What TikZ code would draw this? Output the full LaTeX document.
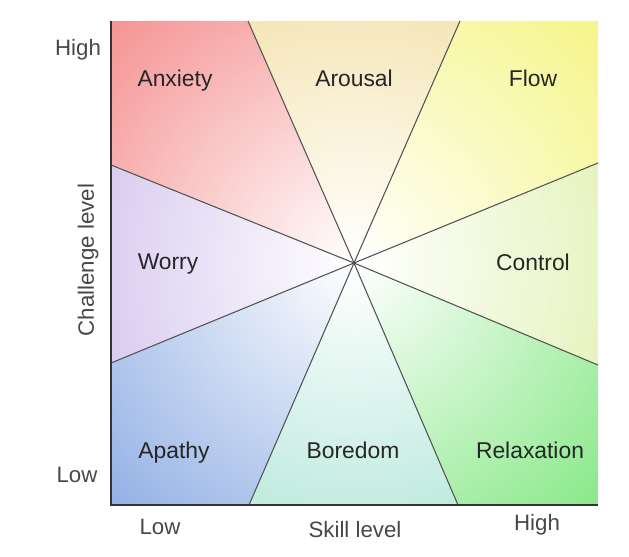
\documentclass[tikz,border=0pt]{standalone}
\usepackage{fontspec}
\setmainfont{Liberation Sans}
\usetikzlibrary{positioning}
\definecolor{anxietycol}{RGB}{245,145,145}
\definecolor{arousalcol}{RGB}{242,222,160}
\definecolor{flowcol}{RGB}{245,245,135}
\definecolor{controlcol}{RGB}{222,240,170}
\definecolor{relaxcol}{RGB}{135,232,135}
\definecolor{boredomcol}{RGB}{170,228,212}
\definecolor{apathycol}{RGB}{145,175,228}
\definecolor{worrycol}{RGB}{205,188,235}
% shaded wedge, white at the hub
\newcommand{\wedgefill}[2]{%
  \begin{scope}
    \clip #1 -- cycle;
    \shade[inner color=white,outer color=#2] (hub) circle (350);
  \end{scope}}

\begin{document}
\begin{tikzpicture}[x=0.03cm,y=0.03cm,
  zone/.style={font=\fontsize{19.5}{23}\selectfont,text=black!85},
  axislabel/.style={font=\fontsize{19}{23}\selectfont,text=black!72},
  spoke/.style={draw=black!68,line width=0.9pt},
  axis/.style={draw=black!80,line width=1.5pt}]
  \useasboundingbox (0,0) rectangle (629,556);
  % hub, corners, rim points
  \coordinate (hub) at (354,293);
  \coordinate (tl) at (111,535); \coordinate (tr) at (598,535);
  \coordinate (bl) at (111,51);  \coordinate (br) at (598,51);
  \coordinate (t1) at (248,535); \coordinate (t2) at (460,535);
  \coordinate (l1) at (111,391); \coordinate (l2) at (111,193);
  \coordinate (r1) at (598,393); \coordinate (r2) at (598,191);
  \coordinate (b1) at (249,51);  \coordinate (b2) at (458,51);
  % wedges
  \wedgefill{(hub) -- (l1) -- (tl) -- (t1)}{anxietycol}
  \wedgefill{(hub) -- (t1) -- (t2)}{arousalcol}
  \wedgefill{(hub) -- (t2) -- (tr) -- (r1)}{flowcol}
  \wedgefill{(hub) -- (r1) -- (r2)}{controlcol}
  \wedgefill{(hub) -- (r2) -- (br) -- (b2)}{relaxcol}
  \wedgefill{(hub) -- (b2) -- (b1)}{boredomcol}
  \wedgefill{(hub) -- (b1) -- (bl) -- (l2)}{apathycol}
  \wedgefill{(hub) -- (l2) -- (l1)}{worrycol}
  % spokes
  \foreach \p in {t1,t2,l1,l2,r1,r2,b1,b2}
    \draw[spoke] (hub) -- (\p);
  % axes
  \draw[axis] (tl) -- (bl) -- (br);
  % zone names
  \node[zone] (anxiety) at (175,475) {Anxiety};
  \node[zone] (arousal) at (354,478) {Arousal};
  \node[zone] (flow) at (533,478) {Flow};
  \node[zone] (worry) at (168,292) {Worry};
  \node[zone] (control) at (533,294) {Control};
  \node[zone] (apathy) at (174,103) {Apathy};
  \node[zone] (boredom) at (353,106) {Boredom};
  \node[zone] (relax) at (530,106) {Relaxation};
  % axis labels
  \node[axislabel] (chigh) at (78,506) {High};
  \node[axislabel] (clow) at (77,81) {Low};
  \node[axislabel,rotate=90] (challenge) at (88,296) {Challenge level};
  \node[axislabel] (slow) at (160,29) {Low};
  \node[axislabel] (skill) at (355,26) {Skill level};
  \node[axislabel] (shigh) at (537,31) {High};
\end{tikzpicture}
\end{document}
